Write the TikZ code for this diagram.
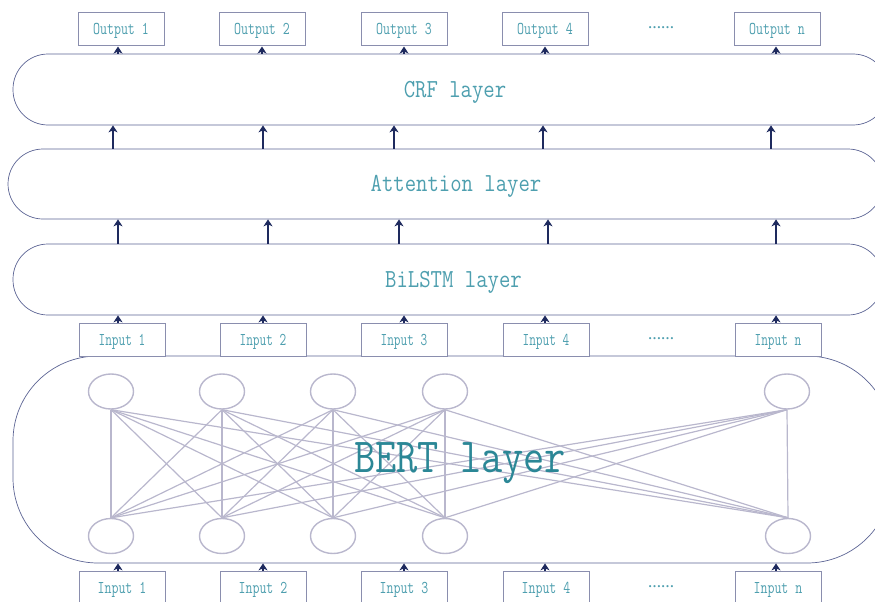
\documentclass[tikz,border=0pt]{standalone}
\usepackage{fontspec}
\newfontfamily\dotsfont{Liberation Serif}
\usetikzlibrary{shapes.geometric,arrows.meta,calc}
\definecolor{txt}{HTML}{4E9FAF}
\definecolor{bertc}{HTML}{2B8796}
\definecolor{boxc}{HTML}{8A8EAE}
\definecolor{layc}{HTML}{5C6494}
\definecolor{net}{HTML}{B9B7CD}
\definecolor{arrc}{HTML}{1E2A5E}
\newcommand\hsq[2]{\scalebox{#1}[1]{#2}}
\begin{document}
\begin{tikzpicture}[x=1pt,y=-1pt,
  lbox/.style={draw=boxc,line width=1pt,fill=white,minimum width=86pt,minimum height=33pt,
    inner sep=0pt,text height=11pt,text depth=0pt,text=txt,font=\fontsize{18}{18}\selectfont\ttfamily},
  layer/.style={draw=layc,line width=0.7pt,rectangle,inner sep=0pt},
  ltext/.style={text=txt,anchor=base,inner sep=0pt,font=\fontsize{26}{26}\selectfont\ttfamily},
  neuron/.style={ellipse,draw=net,line width=1.4pt,minimum width=45pt,minimum height=35pt,inner sep=0pt},
  link/.style={draw=net,line width=1.2pt},
  arr/.style={draw=arrc,line width=1.6pt,-{Stealth[length=7pt,width=9pt,inset=2pt]}},
  dotsl/.style={text=txt,inner sep=0pt,font=\fontsize{13}{13}\selectfont\bfseries\dotsfont},
]
\useasboundingbox (0,0) rectangle (875,602);
\clip (0,0) rectangle (875,602);

% layers
\node[layer,rounded corners=35pt,minimum width=875pt,minimum height=71pt] (crf) at (450.5,89.5) {};
\node[layer,rounded corners=35pt,minimum width=875pt,minimum height=70pt] (att) at (445.5,184) {};
\node[layer,rounded corners=35pt,minimum width=870pt,minimum height=71pt] (lstm) at (448,279.5) {};
\node[layer,rounded corners=85pt,minimum width=879pt,minimum height=207pt] (bert) at (452.5,459.5) {};

% network inside BERT
\foreach \n/\x in {1/111,2/222,3/333,4/445,5/787}{
  \node[neuron] (t\n) at (\x,391.5) {};
}
\foreach \n/\x in {1/111,2/222,3/333,4/445,5/788}{
  \node[neuron] (b\n) at (\x,536) {};
}
\foreach \i in {1,...,5}{
  \foreach \j in {1,...,5}{
    \draw[link] (t\i.south) -- (b\j.north);
  }
}

% layer labels
\node[ltext] (crft) at (455,97) {\hsq{0.85}{CRF layer}};
\node[ltext] (attt) at (456,191) {\hsq{0.85}{Attention layer}};
\node[ltext] (lstmt) at (453.5,287) {\hsq{0.85}{BiLSTM layer}};
\node[ltext,text=bertc,font=\fontsize{49}{49}\selectfont\ttfamily] (bertt) at (460,472) {\hsq{0.84}{BERT layer}};

% boxes
\node[lbox] (o1) at (121,29.5) {\hsq{0.75}{Output 1}};
\node[lbox] (o2) at (262,29.5) {\hsq{0.75}{Output 2}};
\node[lbox] (o3) at (404,29.5) {\hsq{0.75}{Output 3}};
\node[lbox] (o4) at (545,29.5) {\hsq{0.75}{Output 4}};
\node[lbox] (o5) at (777,29.5) {\hsq{0.75}{Output n}};
\node[dotsl] (od) at (661,28) {……};

\node[lbox] (i1) at (122,339.5) {\hsq{0.72}{Input 1}};
\node[lbox] (i2) at (263,339.5) {\hsq{0.72}{Input 2}};
\node[lbox] (i3) at (404,339.5) {\hsq{0.72}{Input 3}};
\node[lbox] (i4) at (546,339.5) {\hsq{0.72}{Input 4}};
\node[lbox] (i5) at (778,339.5) {\hsq{0.72}{Input n}};
\node[dotsl] (id) at (661,339) {……};

\node[lbox] (j1) at (122,587.5) {\hsq{0.75}{Input 1}};
\node[lbox] (j2) at (263,587.5) {\hsq{0.75}{Input 2}};
\node[lbox] (j3) at (404,587.5) {\hsq{0.75}{Input 3}};
\node[lbox] (j4) at (546,587.5) {\hsq{0.75}{Input 4}};
\node[lbox] (j5) at (778,587.5) {\hsq{0.75}{Input n}};
\node[dotsl] (jd) at (661,587) {……};

% arrows
\foreach \n/\d in {1/-3,2/0,3/0,4/0,5/-1}{
  \draw[arr] ($(crf.north -| o\n.south)+(\d,0)$) -- ($(o\n.south)+(\d,0)$);
}
\foreach \n/\d in {1/-8,2/1,3/-10,4/-2,5/-6}{
  \draw[arr] ($(att.north -| o\n.south)+(\d,0)$) -- ($(crf.south -| o\n.south)+(\d,0)$);
}
\foreach \n/\d in {1/-3,2/6,3/-5,4/3,5/-1}{
  \draw[arr] ($(lstm.north -| o\n.south)+(\d,0)$) -- ($(att.south -| o\n.south)+(\d,0)$);
}
\foreach \n/\d in {1/-4,2/0,3/0,4/-1,5/-2}{
  \draw[arr] ($(i\n.north)+(\d,0)$) -- ($(lstm.south -| i\n.north)+(\d,0)$);
  \draw[arr] ($(j\n.north)+(\d,0)$) -- ($(bert.south -| j\n.north)+(\d,0)$);
}
\end{tikzpicture}
\end{document}
